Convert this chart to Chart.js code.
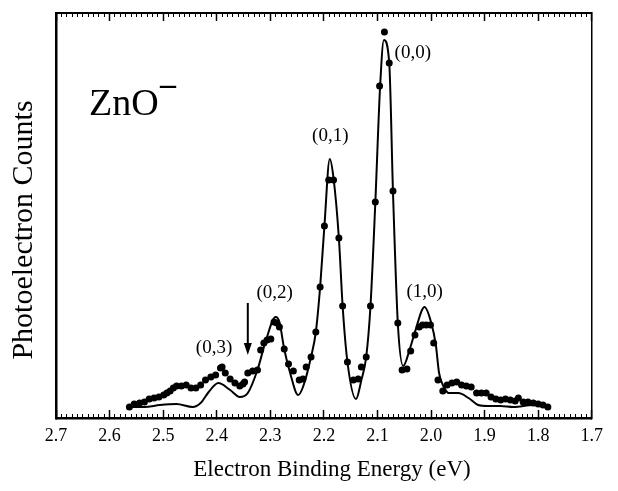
<!DOCTYPE html>
<html>
<head>
<meta charset="utf-8">
<script src="https://cdn.jsdelivr.net/npm/chart.js@4.4.1/dist/chart.umd.min.js"></script>
<style>
  html, body { margin: 0; padding: 0; background: #fff; }
  #wrap { width: 618px; height: 491px; }
</style>
</head>
<body>
<div id="wrap"><canvas id="zno"></canvas></div>
<script>
// measured photoelectron counts (dots), arbitrary units
var dotEnergy = [2.563, 2.554, 2.544, 2.535, 2.526, 2.517, 2.508, 2.499, 2.493, 2.487, 2.481, 2.475,
  2.466, 2.457, 2.448, 2.439, 2.430, 2.421, 2.411, 2.402, 2.393, 2.390, 2.384, 2.375, 2.366, 2.357,
  2.351, 2.348, 2.342, 2.333, 2.324, 2.318, 2.312, 2.306, 2.299, 2.293, 2.288, 2.283, 2.274, 2.266,
  2.257, 2.246, 2.239, 2.233, 2.224, 2.215, 2.207, 2.199, 2.191, 2.182, 2.172, 2.165, 2.156, 2.145,
  2.136, 2.130, 2.121, 2.113, 2.104, 2.096, 2.087, 2.078, 2.071, 2.062, 2.054, 2.045, 2.038, 2.030,
  2.022, 2.016, 2.009, 2.001, 1.995, 1.987, 1.978, 1.970, 1.961, 1.952, 1.943, 1.934, 1.925, 1.915,
  1.906, 1.897, 1.888, 1.879, 1.870, 1.861, 1.852, 1.843, 1.837, 1.828, 1.819, 1.809, 1.800, 1.791, 1.782];
var dotCounts = [11, 14, 15, 16, 19, 20, 21, 23, 25, 27, 30, 32,
  32, 33, 30, 30, 33, 38, 41, 43, 50, 51, 45, 39, 35, 32,
  34, 36, 45, 47, 48, 68, 75, 78, 79, 96, 95, 91, 69, 54,
  47, 38, 39, 51, 61, 86, 131, 192, 238, 238, 180, 112, 56, 38,
  39, 51, 61, 112, 216, 332, 386, 355, 227, 95, 48, 49, 67, 83,
  91, 93, 93, 93, 75, 38, 27, 33, 35, 36, 33, 32, 31, 25,
  25, 25, 21, 19, 18, 19, 18, 17, 20, 16, 16, 15, 14, 13, 11];

// simulated spectrum (solid line)
var fitEnergy = [2.563, 2.535, 2.506, 2.475, 2.445, 2.430, 2.415, 2.397, 2.375, 2.357, 2.342, 2.324,
  2.309, 2.290, 2.283, 2.274, 2.263, 2.248, 2.239, 2.224, 2.215, 2.207, 2.199, 2.189, 2.182, 2.172,
  2.165, 2.156, 2.140, 2.130, 2.121, 2.113, 2.104, 2.095, 2.088, 2.078, 2.071, 2.062, 2.052, 2.039,
  2.030, 2.012, 2.000, 1.991, 1.985, 1.976, 1.967, 1.949, 1.930, 1.912, 1.894, 1.871, 1.846, 1.809, 1.782];
var fitCounts = [11, 11, 13, 14, 11, 15, 26, 35, 28, 21, 25, 48,
  76, 101, 96, 69, 45, 23, 31, 61, 86, 131, 192, 259, 240, 180,
  112, 56, 19, 38, 61, 112, 215, 332, 378, 355, 226, 95, 52, 70,
  86, 111, 96, 73, 45, 31, 25, 25, 20, 13, 12, 12, 11, 13, 11];

var majorTicks = [2.7, 2.6, 2.5, 2.4, 2.3, 2.2, 2.1, 2.0, 1.9, 1.8, 1.7];

var peakLabels = ['(0,0)', '(0,1)', '(0,2)', '(1,0)', '(0,3)'];
var peakLabelEnergy = [2.034, 2.188, 2.292, 2.012, 2.405];
var peakLabelCounts = [365, 282, 125, 126, 70];

var arrowEnergy = 2.342;
var arrowCounts = [115, 63];

var serif = "'Liberation Serif', 'Times New Roman', serif";

// x axes: major/minor, bottom/top, all with ticks pointing into the plot
function hAxis(pos, major, labels) {
  return {
    type: 'linear',
    position: pos,
    weight: major ? 1 : 0,
    min: 1.7,
    max: 2.7,
    reverse: true,
    afterFit: function (s) { s.height = labels ? 73 : 0; },
    afterBuildTicks: major ? function (s) { s.ticks = majorTicks.map(function (v) { return { value: v }; }); } : undefined,
    grid: {
      drawOnChartArea: false,
      drawTicks: true,
      tickLength: major ? -8 : -4,
      tickWidth: major ? 1.5 : 1,
      tickColor: '#000'
    },
    border: {
      display: major,
      color: '#000',
      width: pos === 'bottom' ? 2.5 : 2
    },
    ticks: labels ? {
      display: true,
      autoSkip: false,
      maxRotation: 0,
      padding: 15,
      color: '#000',
      font: { family: serif, size: 18 },
      callback: function (v) { return v.toFixed(1); }
    } : {
      display: false,
      autoSkip: false,
      stepSize: 0.01
    }
  };
}

function vAxis(pos, w) {
  return {
    type: 'linear',
    position: pos,
    min: 0,
    max: 405,
    afterFit: function (s) { s.width = 0; },
    grid: { drawOnChartArea: false, drawTicks: false },
    border: { display: true, color: '#000', width: w },
    ticks: { display: false }
  };
}

const annotations = {
  id: 'annotations',
  afterDatasetsDraw: function (chart) {
    const ctx = chart.ctx;
    const xs = chart.scales.x, ys = chart.scales.y;
    ctx.save();
    ctx.fillStyle = '#000';
    ctx.strokeStyle = '#000';

    // peak assignments
    ctx.font = '19px ' + serif;
    ctx.textAlign = 'center';
    ctx.textBaseline = 'middle';
    peakLabels.forEach(function (t, i) {
      ctx.fillText(t, xs.getPixelForValue(peakLabelEnergy[i]), ys.getPixelForValue(peakLabelCounts[i]));
    });

    // arrow
    var ax = xs.getPixelForValue(arrowEnergy);
    var ay1 = ys.getPixelForValue(arrowCounts[0]);
    var ay2 = ys.getPixelForValue(arrowCounts[1]);
    ctx.lineWidth = 2;
    ctx.beginPath();
    ctx.moveTo(ax, ay1);
    ctx.lineTo(ax, ay2 - 8);
    ctx.stroke();
    ctx.beginPath();
    ctx.moveTo(ax - 4, ay2 - 12);
    ctx.lineTo(ax + 4, ay2 - 12);
    ctx.lineTo(ax, ay2);
    ctx.closePath();
    ctx.fill();

    // species label
    ctx.textAlign = 'left';
    ctx.textBaseline = 'alphabetic';
    ctx.font = '38px ' + serif;
    ctx.fillText('ZnO', 89, 115);
    ctx.font = 'bold 32px ' + serif;
    ctx.fillText('\u2013', 160, 94);

    // axis titles
    ctx.textAlign = 'center';
    ctx.textBaseline = 'middle';
    ctx.font = '23px ' + serif;
    ctx.fillText('Electron Binding Energy (eV)', 332, 470);
    ctx.translate(24, 230);
    ctx.rotate(-Math.PI / 2);
    ctx.font = '30px ' + serif;
    ctx.fillText('Photoelectron Counts', 0, 0);
    ctx.restore();
  }
};

new Chart(document.getElementById('zno'), {
  type: 'line',
  data: {
    datasets: [{
      label: 'experiment',
      data: dotEnergy.map(function (e, i) { return { x: e, y: dotCounts[i] }; }),
      showLine: false,
      pointRadius: 3.5,
      pointBackgroundColor: '#000',
      pointBorderWidth: 0,
      order: 1
    }, {
      label: 'simulation',
      data: fitEnergy.map(function (e, i) { return { x: e, y: fitCounts[i] }; }),
      borderColor: '#000',
      borderWidth: 2,
      pointRadius: 0,
      cubicInterpolationMode: 'monotone',
      fill: false,
      order: 2
    }]
  },
  options: {
    responsive: true,
    maintainAspectRatio: false,
    animation: false,
    layout: { padding: { left: 56, right: 11, top: 13, bottom: 0 } },
    plugins: { legend: { display: false }, tooltip: { enabled: false } },
    scales: {
      x: hAxis('bottom', true, true),
      xMinor: hAxis('bottom', false, false),
      xTop: hAxis('top', true, false),
      xTopMinor: hAxis('top', false, false),
      y: vAxis('left', 2.5),
      yRight: vAxis('right', 1.5)
    }
  },
  plugins: [annotations]
});
</script>
</body>
</html>
